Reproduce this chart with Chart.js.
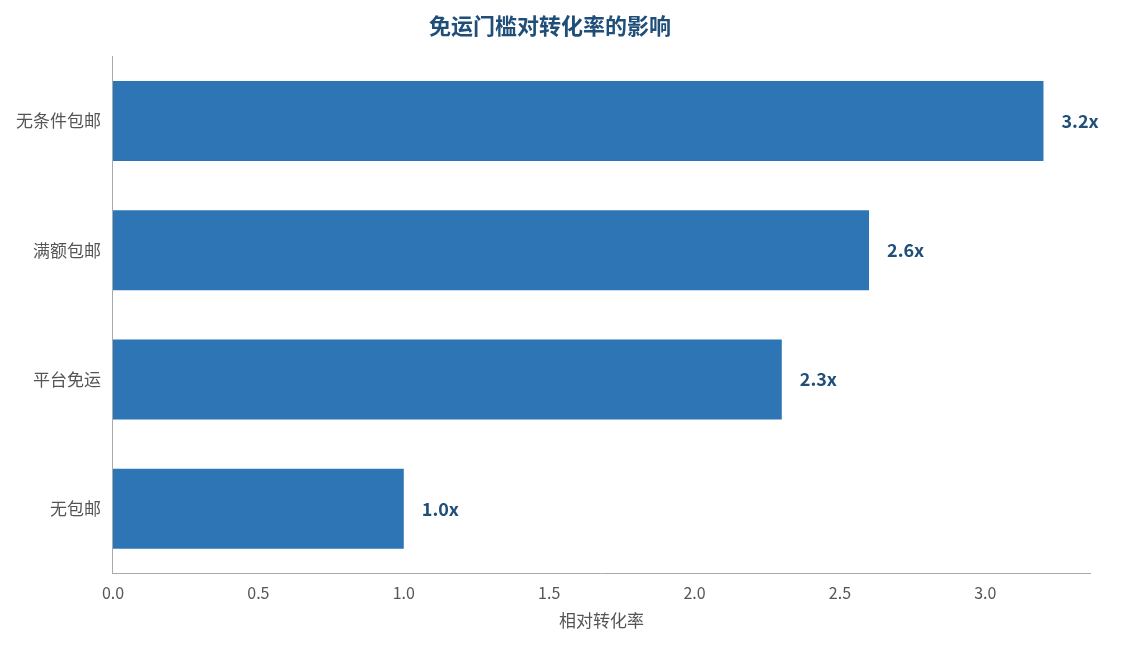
<!DOCTYPE html>
<html><head><meta charset="utf-8">
<script src="https://cdn.jsdelivr.net/npm/chart.js@4/dist/chart.umd.min.js"></script>
<style>html,body{margin:0;padding:0;background:#fff}#wrap{width:1122px;height:645px}</style>
</head><body><div id="wrap"><canvas id="c"></canvas></div>
<script>
const categories = ["无条件包邮","满额包邮","平台免运","无包邮"];
const values = [3.2, 2.6, 2.3, 1.0];
const valueLabels = ["3.2x","2.6x","2.3x","1.0x"];
const tickValues = [0,0.5,1.0,1.5,2.0,2.5,3.0];
const FONT = '"Noto Sans CJK SC","Noto Sans",sans-serif';
const labelPlugin = {
  id:'lbl',
  afterDatasetsDraw(chart){
    const ctx=chart.ctx, meta=chart.getDatasetMeta(0);
    ctx.save();
    ctx.font='bold 18px '+FONT; ctx.fillStyle='#1f4e79';
    ctx.textBaseline='middle'; ctx.textAlign='left';
    meta.data.forEach((b,i)=>ctx.fillText(valueLabels[i], b.x+18, b.y));
    ctx.restore();
  }
};
new Chart(document.getElementById('c'),{
  type:'bar',
  data:{labels:categories,datasets:[{data:values,backgroundColor:'#2e75b6',categoryPercentage:1,barPercentage:0.62}]},
  options:{
    indexAxis:'y',responsive:true,maintainAspectRatio:false,animation:false,
    layout:{padding:{left:10,right:32,top:4,bottom:10}},
    plugins:{legend:{display:false},tooltip:{enabled:false},
      title:{display:true,text:'免运门槛对转化率的影响',color:'#1f4e79',font:{family:FONT,size:22,weight:'bold'},padding:{top:8,bottom:18}}},
    scales:{
      x:{min:0,max:3.36,
        afterBuildTicks(s){s.ticks=tickValues.map(v=>({value:v}));},
        ticks:{color:'#555',font:{family:FONT,size:16},callback:v=>Number(v).toFixed(1),padding:4},
        grid:{display:false,drawTicks:true,tickLength:6,color:'#aaa'},
        border:{color:'#aaa'},
        title:{display:true,text:'相对转化率',color:'#555',font:{family:FONT,size:17},padding:{top:4}}},
      y:{ticks:{color:'#555',font:{family:FONT,size:17},padding:6},
        grid:{display:false,tickLength:6,color:'#aaa'},border:{color:'#aaa'}}
    }
  },
  plugins:[labelPlugin]
});
</script></body></html>
